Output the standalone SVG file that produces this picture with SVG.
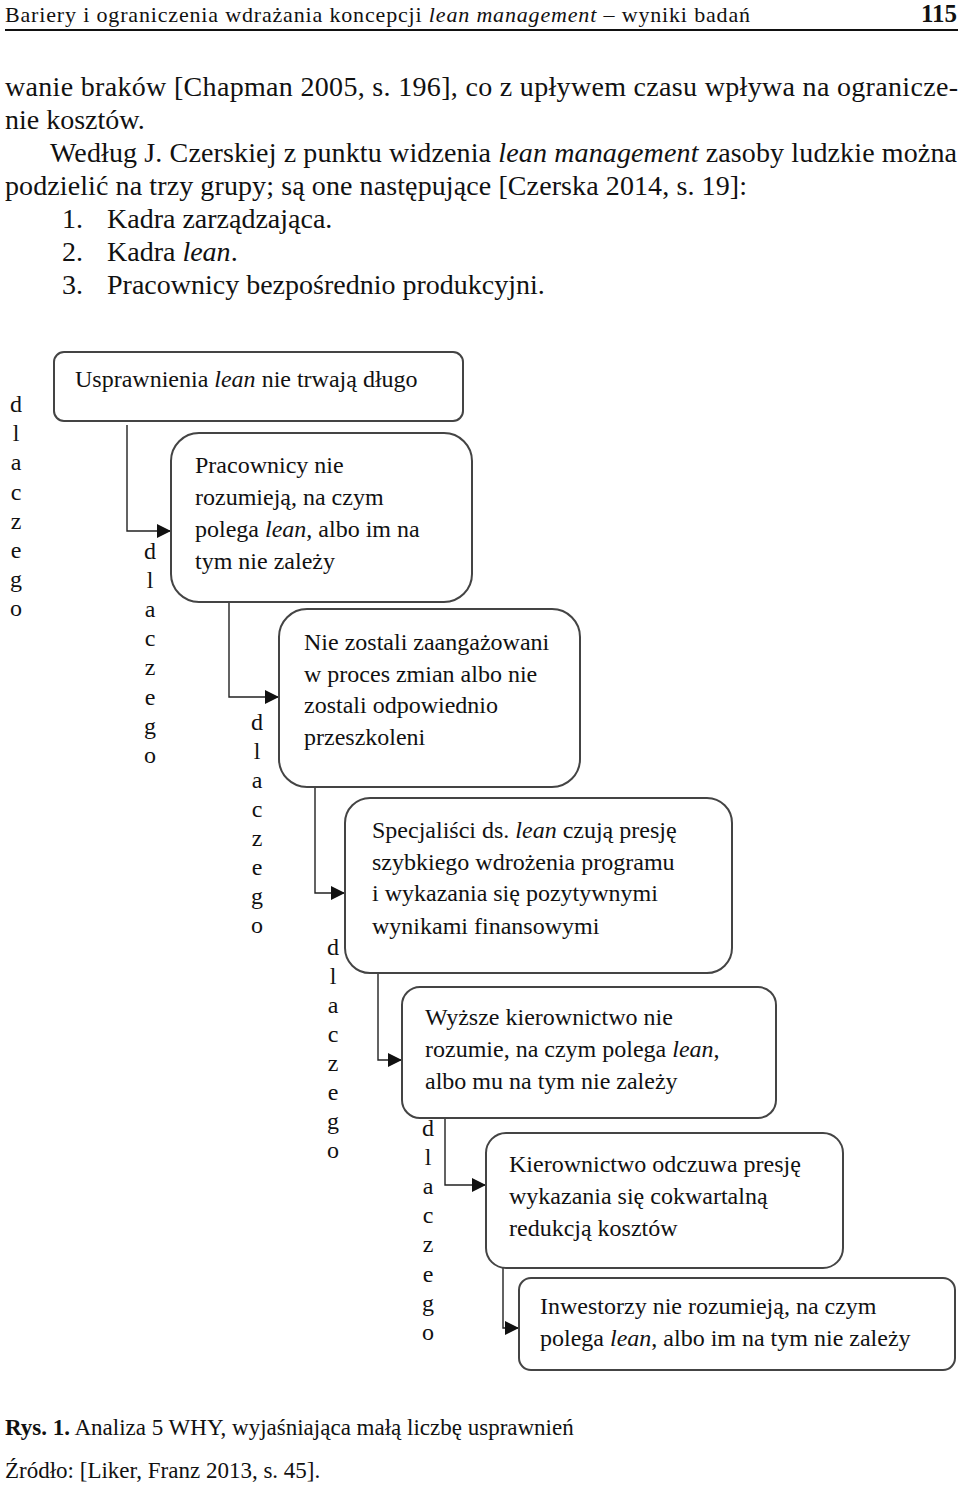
<svg xmlns="http://www.w3.org/2000/svg" width="960" height="1487" viewBox="0 0 960 1487">
<style>
  text { font-family: "Liberation Serif", "Times New Roman", serif; fill: #111; }
  .hdr { font-size: 22px; }
  .pg { font-size: 25px; font-weight: bold; }
  .body { font-size: 28px; }
  .node { font-size: 24px; }
  .why { font-size: 24px; text-anchor: middle; }
  .cap { font-size: 23px; }
  .box { fill: #fff; stroke: #444; stroke-width: 2; }
  .conn { fill: none; stroke: #222; stroke-width: 1.4; }
  i, .it { font-style: italic; }
</style>
<defs>
  <marker id="arr" viewBox="0 0 14 14" refX="14" refY="7" markerWidth="14" markerHeight="14" markerUnits="userSpaceOnUse" orient="auto">
    <path d="M0,0 L14,7 L0,14 Z" fill="#111"/>
  </marker>
</defs>

<g id="page-header">
  <text class="hdr" x="5" y="22" textLength="745" lengthAdjust="spacing">Bariery i ograniczenia wdrażania koncepcji <tspan class="it">lean management</tspan> – wyniki badań</text>
  <text class="pg" x="957" y="22" text-anchor="end">115</text>
  <line x1="5" y1="30" x2="958" y2="30" stroke="#111" stroke-width="2"/>
</g>

<g id="body-text">
  <text class="body" x="5" y="96" textLength="953" lengthAdjust="spacing">wanie braków [Chapman 2005, s. 196], co z upływem czasu wpływa na ogranicze-</text>
  <text class="body" x="5" y="129">nie kosztów.</text>
  <text class="body" x="50" y="162" textLength="907" lengthAdjust="spacing">Według J. Czerskiej z punktu widzenia <tspan class="it">lean management</tspan> zasoby ludzkie można</text>
  <text class="body" x="5" y="195" textLength="742" lengthAdjust="spacing">podzielić na trzy grupy; są one następujące [Czerska 2014, s. 19]:</text>
  <text class="body" x="62" y="228">1.</text>
  <text class="body" x="107" y="228">Kadra zarządzająca.</text>
  <text class="body" x="62" y="261">2.</text>
  <text class="body" x="107" y="261">Kadra <tspan class="it">lean</tspan>.</text>
  <text class="body" x="62" y="294">3.</text>
  <text class="body" x="107" y="294">Pracownicy bezpośrednio produkcyjni.</text>
</g>

<g id="connectors">
  <path class="conn" d="M127,425 V531 H171" marker-end="url(#arr)"/>
  <path class="conn" d="M229,600 V697 H279" marker-end="url(#arr)"/>
  <path class="conn" d="M315,787 V893 H345" marker-end="url(#arr)"/>
  <path class="conn" d="M378,973 V1060 H402" marker-end="url(#arr)"/>
  <path class="conn" d="M445,1118 V1185 H486" marker-end="url(#arr)"/>
  <path class="conn" d="M503,1268 V1328 H519" marker-end="url(#arr)"/>
</g>

<g id="why-labels">
  <text class="why" x="16"><tspan x="16" y="412">d</tspan><tspan x="16" y="441">l</tspan><tspan x="16" y="470">a</tspan><tspan x="16" y="500">c</tspan><tspan x="16" y="529">z</tspan><tspan x="16" y="558">e</tspan><tspan x="16" y="587">g</tspan><tspan x="16" y="616">o</tspan></text>
  <text class="why" x="150"><tspan x="150" y="559">d</tspan><tspan x="150" y="588">l</tspan><tspan x="150" y="617">a</tspan><tspan x="150" y="646">c</tspan><tspan x="150" y="675">z</tspan><tspan x="150" y="705">e</tspan><tspan x="150" y="734">g</tspan><tspan x="150" y="763">o</tspan></text>
  <text class="why" x="257"><tspan x="257" y="730">d</tspan><tspan x="257" y="759">l</tspan><tspan x="257" y="788">a</tspan><tspan x="257" y="817">c</tspan><tspan x="257" y="846">z</tspan><tspan x="257" y="875">e</tspan><tspan x="257" y="904">g</tspan><tspan x="257" y="933">o</tspan></text>
  <text class="why" x="333"><tspan x="333" y="955">d</tspan><tspan x="333" y="984">l</tspan><tspan x="333" y="1013">a</tspan><tspan x="333" y="1042">c</tspan><tspan x="333" y="1071">z</tspan><tspan x="333" y="1100">e</tspan><tspan x="333" y="1129">g</tspan><tspan x="333" y="1158">o</tspan></text>
  <text class="why" x="428"><tspan x="428" y="1136">d</tspan><tspan x="428" y="1165">l</tspan><tspan x="428" y="1194">a</tspan><tspan x="428" y="1223">c</tspan><tspan x="428" y="1252">z</tspan><tspan x="428" y="1282">e</tspan><tspan x="428" y="1311">g</tspan><tspan x="428" y="1340">o</tspan></text>
</g>

<g id="node1">
  <rect class="box" x="54" y="352" width="409" height="69" rx="10"/>
  <text class="node" x="75" y="387">Usprawnienia <tspan class="it">lean</tspan> nie trwają długo</text>
</g>

<g id="node2">
  <rect class="box" x="171" y="433" width="301" height="169" rx="28"/>
  <text class="node"><tspan x="195" y="473">Pracownicy nie</tspan><tspan x="195" y="505">rozumieją, na czym</tspan><tspan x="195" y="537">polega <tspan class="it">lean</tspan>, albo im na</tspan><tspan x="195" y="569">tym nie zależy</tspan></text>
</g>

<g id="node3">
  <rect class="box" x="279" y="609" width="301" height="178" rx="28"/>
  <text class="node"><tspan x="304" y="650">Nie zostali zaangażowani</tspan><tspan x="304" y="682">w proces zmian albo nie</tspan><tspan x="304" y="713">zostali odpowiednio</tspan><tspan x="304" y="745">przeszkoleni</tspan></text>
</g>

<g id="node4">
  <rect class="box" x="345" y="798" width="387" height="175" rx="25"/>
  <text class="node"><tspan x="372" y="838">Specjaliści ds. <tspan class="it">lean</tspan> czują presję</tspan><tspan x="372" y="870">szybkiego wdrożenia programu</tspan><tspan x="372" y="901">i wykazania się pozytywnymi</tspan><tspan x="372" y="934">wynikami finansowymi</tspan></text>
</g>

<g id="node5">
  <rect class="box" x="402" y="987" width="374" height="131" rx="18"/>
  <text class="node"><tspan x="425" y="1025">Wyższe kierownictwo nie</tspan><tspan x="425" y="1057">rozumie, na czym polega <tspan class="it">lean</tspan>,</tspan><tspan x="425" y="1089">albo mu na tym nie zależy</tspan></text>
</g>

<g id="node6">
  <rect class="box" x="486" y="1133" width="357" height="135" rx="20"/>
  <text class="node"><tspan x="509" y="1172">Kierownictwo odczuwa presję</tspan><tspan x="509" y="1204">wykazania się cokwartalną</tspan><tspan x="509" y="1236">redukcją kosztów</tspan></text>
</g>

<g id="node7">
  <rect class="box" x="519" y="1278" width="436" height="92" rx="12"/>
  <text class="node"><tspan x="540" y="1314">Inwestorzy nie rozumieją, na czym</tspan><tspan x="540" y="1346">polega <tspan class="it">lean</tspan>, albo im na tym nie zależy</tspan></text>
</g>

<g id="caption">
  <text class="cap" x="5" y="1435"><tspan font-weight="bold">Rys. 1.</tspan> Analiza 5 WHY, wyjaśniająca małą liczbę usprawnień</text>
  <text class="cap" x="5" y="1478">Źródło: [Liker, Franz 2013, s. 45].</text>
</g>
</svg>
